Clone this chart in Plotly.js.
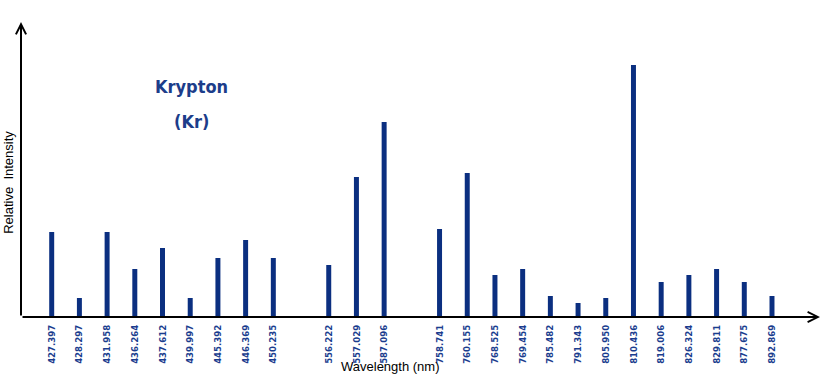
<!DOCTYPE html>
<html>
<head>
<meta charset="utf-8">
<script src="https://cdn.plot.ly/plotly-3.0.1.min.js"></script>
<style>html,body{margin:0;padding:0;background:#fff;}#chart{width:835px;height:377px;}</style>
</head>
<body>
<div id="chart"></div>
<script>
// Wavelength groups (nm) as tick labels
const groupVisible = ["427.397","428.297","431.958","436.264","437.612","439.997","445.392","446.369","450.235"];
const groupGreen = ["556.222","557.029","587.096"];
const groupNIR = ["758.741","760.155","768.525","769.454","785.482","791.343","805.950","810.436","819.006","826.324","829.811","877.675","892.869"];

// Relative intensities (arbitrary units), same order as the wavelengths
const intensityVisible = [85, 19, 85, 48, 69, 19, 59, 77, 59];
const intensityGreen = [52, 140, 195];
const intensityNIR = [88, 144, 42, 48, 21, 14, 19, 252, 35, 42, 48, 35, 21];

const wavelengths = groupVisible.concat(groupGreen, groupNIR);
const intensities = intensityVisible.concat(intensityGreen, intensityNIR);
// category order with blank spacer slots between the groups
const categoryOrder = groupVisible.concat([" "], groupGreen, ["  "], groupNIR);

const blue = "#0b2f80";
const labelBlue = "#1a3d8e";
const narrow = "Liberation Sans Narrow, Arial Narrow, DejaVu Sans Condensed, Liberation Sans, sans-serif";

const trace = {
  type: "bar",
  x: wavelengths,
  y: intensities,
  marker: {color: blue, line: {width: 0}},
  hoverinfo: "x+y"
};

const layout = {
  width: 835, height: 377,
  margin: {l: 21, r: 15, t: 22, b: 60, pad: 0},
  paper_bgcolor: "#ffffff",
  plot_bgcolor: "#ffffff",
  showlegend: false,
  bargap: 0.82,
  xaxis: {
    type: "category",
    categoryorder: "array",
    categoryarray: categoryOrder,
    range: [-1.108, 27.733],
    showline: false, showgrid: false, zeroline: false,
    ticks: "", tickangle: -90,
    ticklabelstandoff: 5,
    tickfont: {family: narrow, size: 9.5, color: labelBlue, weight: "bold"},
    automargin: false
  },
  yaxis: {
    range: [0, 295],
    visible: false,
    showgrid: false, zeroline: false
  },
  annotations: [
    {xref: "paper", yref: "paper", x: 1, y: 0, ax: -799, ay: 0, axref: "pixel", ayref: "pixel",
     text: "", showarrow: true, arrowhead: 5, arrowsize: 1, arrowwidth: 2, arrowcolor: "#000",
     standoff: 0, startstandoff: 0},
    {xref: "paper", yref: "paper", x: 0, y: 1, ax: 0, ay: 295, axref: "pixel", ayref: "pixel",
     text: "", showarrow: true, arrowhead: 5, arrowsize: 1, arrowwidth: 2, arrowcolor: "#000",
     standoff: 0, startstandoff: 0},
    {xref: "paper", yref: "paper", x: 0.2136, y: 0.7807, xanchor: "center", yanchor: "middle",
     text: "Krypton", showarrow: false,
     font: {family: narrow, size: 18, color: "#1c3d8a", weight: "bold"}},
    {xref: "paper", yref: "paper", x: 0.2136, y: 0.662, xanchor: "center", yanchor: "middle",
     text: "(Kr)", showarrow: false,
     font: {family: narrow, size: 18, color: "#1c3d8a", weight: "bold"}},
    {xref: "paper", yref: "paper", x: -0.0159, y: 0.456, xanchor: "center", yanchor: "middle",
     text: "Relative  Intensity", showarrow: false,
     textangle: -90, font: {family: "Liberation Sans, Arial, sans-serif", size: 13, color: "#000"}},
    {xref: "paper", yref: "paper", x: 0.463, y: -0.1685, xanchor: "center", yanchor: "middle",
     text: "Wavelength (nm)", showarrow: false,
     font: {family: "Liberation Sans, Arial, sans-serif", size: 13, color: "#000"}}
  ]
};

Plotly.newPlot("chart", [trace], layout, {displayModeBar: false, staticPlot: true});
</script>
</body>
</html>
